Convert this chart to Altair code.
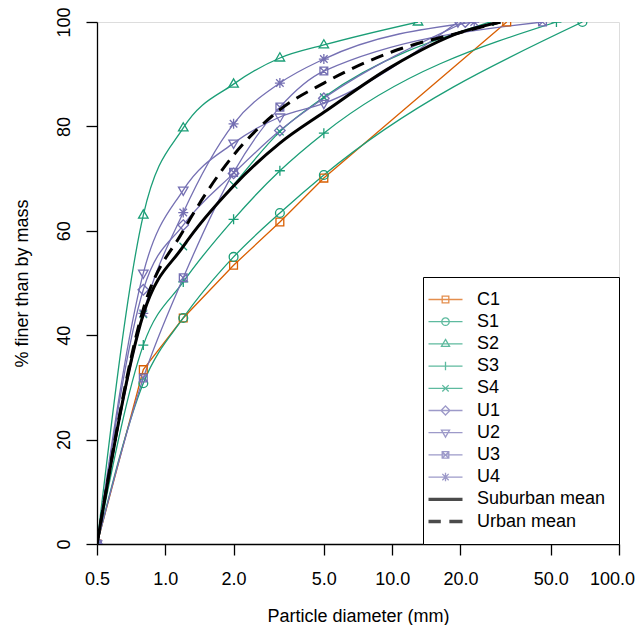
import altair as alt
import pandas as pd

# ---------------- data ----------------
sample_names = ["C1", "S1", "S2", "S3", "S4", "U1", "U2", "U3", "U4"]
mean_names = ["Suburban mean", "Urban mean"]
all_names = sample_names + mean_names

sieve_sizes = [0.5, 0.8, 1.2, 2.0, 3.2, 5.0]          # mm
max_size = {"C1": 32, "S1": 69, "S2": 13, "S3": 53, "S4": 27,
            "U1": 21, "U2": 19.5, "U3": 46, "U4": 23}  # mm at 100 %

pct_c1 = [0, 33.4, 43.3, 53.4, 61.7, 70.1, 100]
pct_s1 = [0, 30.8, 43.3, 55.0, 63.4, 70.7, 100]
pct_s2 = [0, 63.0, 79.7, 88.1, 93.1, 95.6, 100]
pct_s3 = [0, 38.1, 50.2, 62.2, 71.5, 78.7, 100]
pct_s4 = [0, 44.0, 57.0, 68.8, 79.0, 85.6, 100]
pct_u1 = [0, 48.7, 61.1, 71.0, 79.2, 85.4, 100]
pct_u2 = [0, 51.9, 67.8, 76.8, 81.8, 84.4, 100]
pct_u3 = [0, 31.8, 51.0, 71.2, 83.7, 90.6, 100]
pct_u4 = [0, 44.2, 63.5, 80.5, 88.3, 92.9, 100]

mean_sizes = [0.5, 0.8, 1.2, 2.0, 3.2, 5.0, 10.0, 20.0, 30.0]
suburban_mean = [0, 44.0, 57.0, 68.6, 76.8, 82.7, 91.5, 98.0, 100]
urban_mean = [0, 45.0, 60.0, 74.5, 83.2, 88.3, 94.3, 98.0, 100]

x_ticks = [0.5, 1, 2, 5, 10, 20, 50, 100]
y_ticks = [0, 20, 40, 60, 80, 100]

# ---------------- build table ----------------
pct = {"C1": pct_c1, "S1": pct_s1, "S2": pct_s2, "S3": pct_s3, "S4": pct_s4,
       "U1": pct_u1, "U2": pct_u2, "U3": pct_u3, "U4": pct_u4}
rows = []
for name in sample_names:
    xs = sieve_sizes + [max_size[name]]
    for xv, yv in zip(xs, pct[name]):
        rows.append({"series": name, "size": xv, "pct": yv})
for xv, yv in zip(mean_sizes, suburban_mean):
    rows.append({"series": "Suburban mean", "size": xv, "pct": yv})
for xv, yv in zip(mean_sizes, urban_mean):
    rows.append({"series": "Urban mean", "size": xv, "pct": yv})
df = pd.DataFrame(rows)

# ---------------- styles ----------------
ORANGE, GREEN, PURPLE = "#D95F02", "#1B9E77", "#7570B3"
colors = [ORANGE, GREEN, GREEN, GREEN, GREEN, PURPLE, PURPLE, PURPLE, PURPLE, "black", "black"]
FONT = "Liberation Sans"


def f(v):
    return f"{v:.3f}".rstrip("0").rstrip(".")


def marker(kind, s, dx=0.0):
    def p(x, y):
        return f"{f(x * s + dx)},{f(y * s)}"
    a = 0.78
    c = 0.75
    sq = f"M{p(-a,-a)}L{p(a,-a)}L{p(a,a)}L{p(-a,a)}Z"
    cr = f"M{p(-c,-c)}L{p(c,c)}M{p(-c,c)}L{p(c,-c)}"
    pl = f"M{p(-1,0)}L{p(1,0)}M{p(0,-1)}L{p(0,1)}"
    if kind == "square":
        return sq
    if kind == "circle":
        r = 0.88 * s
        return (f"M{f(-r+dx)},0A{f(r)},{f(r)} 0 1,0 {f(r+dx)},0"
                f"A{f(r)},{f(r)} 0 1,0 {f(-r+dx)},0Z")
    if kind == "tri_up":
        return f"M{p(0,-1.05)}L{p(0.95,0.6)}L{p(-0.95,0.6)}Z"
    if kind == "plus":
        return pl
    if kind == "cross":
        return cr
    if kind == "diamond":
        return f"M{p(0,-1.05)}L{p(1.05,0)}L{p(0,1.05)}L{p(-1.05,0)}Z"
    if kind == "tri_down":
        return f"M{p(0,1.05)}L{p(0.95,-0.6)}L{p(-0.95,-0.6)}Z"
    if kind == "boxx":
        b = 0.78
        return sq + f"M{p(-b,-b)}L{p(b,b)}M{p(-b,b)}L{p(b,-b)}"
    if kind == "star":
        return pl + cr
    return ""


kinds = ["square", "circle", "tri_up", "plus", "cross", "diamond", "tri_down", "boxx", "star"]
chart_shapes = [marker(k, 1.0) for k in kinds]
LINE = "M-2,0L2,0"
legend_shapes = [LINE + marker(k, 0.5) for k in kinds]
legend_shapes.append("M-2,-0.12L2,-0.12M-2,0L2,0M-2,0.12L2,0.12")
legend_shapes.append("M-2,-0.12L-0.55,-0.12M-2,0L-0.55,0M-2,0.12L-0.55,0.12"
                     "M0.45,-0.12L2,-0.12M0.45,0L2,0M0.45,0.12L2,0.12")

# ---------------- encodings ----------------
x_axis = alt.Axis(values=x_ticks, format=".1f", title="Particle diameter (mm)",
                  grid=False, labelFlush=False, labelOverlap=False, labelBound=False,
                  labelOffset={"condition": {"test": "datum.value >= 100", "value": -7}, "value": 0},
                  tickSize=11, tickWidth=1.3, tickColor="black",
                  domainColor="black", domainWidth=1.3,
                  labelFontSize=18, labelFont=FONT, labelColor="black", labelPadding=15,
                  titleFontSize=18, titleFont=FONT, titleColor="black",
                  titleFontWeight="normal", titleY=77, titleBaseline="alphabetic")
y_axis = alt.Axis(values=y_ticks, title="% finer than by mass", grid=False,
                  tickSize=11, tickWidth=1.3, tickColor="black",
                  domainColor="black", domainWidth=1.3,
                  labelFontSize=18, labelFont=FONT, labelColor="black",
                  labelAngle=270, labelAlign="center", labelBaseline="middle",
                  labelPadding=22, labelFlush=False, labelOverlap=False,
                  titleFontSize=18, titleFont=FONT, titleColor="black",
                  titleFontWeight="normal", titleX=-70, titleBaseline="alphabetic")

X = alt.X("size:Q", scale=alt.Scale(type="log", domain=[0.5, 100], nice=False), axis=x_axis)
Y = alt.Y("pct:Q", scale=alt.Scale(domain=[0, 100], nice=False), axis=y_axis)
color_scale = alt.Scale(domain=all_names, range=colors)
C = alt.Color("series:N", scale=color_scale, legend=None)

base = alt.Chart(df)

c1_line = base.transform_filter(alt.datum.series == "C1").mark_line(
    strokeWidth=1.3, clip=True, interpolate="linear").encode(x=X, y=Y, color=C, detail="series:N")

smooth_lines = base.transform_filter(
    alt.FieldOneOfPredicate(field="series", oneOf=sample_names[1:])
).mark_line(strokeWidth=1.3, clip=True, interpolate="monotone").encode(
    x=X, y=Y, color=C, detail="series:N")

points = base.transform_filter(
    alt.FieldOneOfPredicate(field="series", oneOf=sample_names)
).mark_point(filled=False, size=100, strokeWidth=1.3, clip=True, opacity=1).encode(
    x=X, y=Y, color=C,
    shape=alt.Shape("series:N", scale=alt.Scale(domain=sample_names, range=chart_shapes), legend=None))

sub_line = base.transform_filter(alt.datum.series == "Suburban mean").mark_line(
    color="black", strokeWidth=3, clip=True, interpolate="monotone").encode(x=X, y=Y)

urb_line = base.transform_filter(alt.datum.series == "Urban mean").mark_line(
    color="black", strokeWidth=3, strokeDash=[13, 8], clip=True, interpolate="monotone").encode(x=X, y=Y)

leg = alt.Legend(title=None, orient="bottom-right", offset=0, padding=13,
                 labelFontSize=18, labelFont=FONT, labelColor="black", labelOffset=22,
                 symbolSize=289, symbolStrokeWidth=1.3, rowPadding=3.2,
                 strokeColor="black", fillColor="white", labelLimit=300)

legend_layer = base.transform_filter("false").mark_point(filled=False, strokeWidth=1.3).encode(
    x=X, y=Y,
    color=alt.Color("series:N", scale=alt.Scale(domain=all_names, range=colors), legend=leg),
    shape=alt.Shape("series:N", scale=alt.Scale(domain=all_names, range=legend_shapes), legend=leg))

chart = alt.layer(c1_line, smooth_lines, points, sub_line, urb_line, legend_layer).resolve_scale(
    color="independent", shape="independent"
).properties(
    width=522, height=522,
    padding={"left": 89, "top": 14, "right": 16, "bottom": 81},
    autosize=alt.AutoSizeParams(type="none"),
).configure_view(stroke="black", strokeWidth=1.3).configure(background="white")

chart.save("out.html", embed_options={"renderer": "svg", "actions": False})
